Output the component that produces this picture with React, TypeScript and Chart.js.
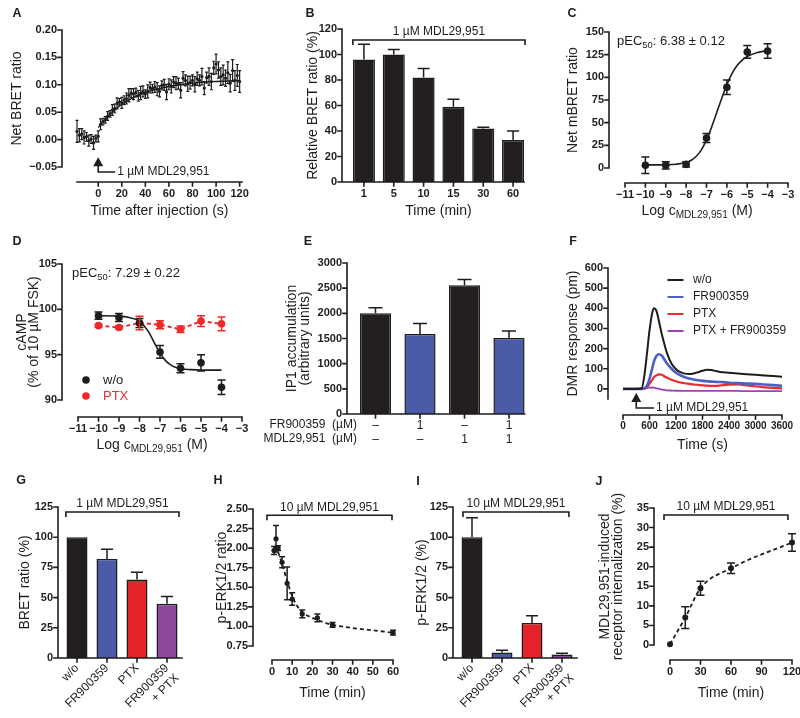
import React, { useEffect, useRef } from 'react';
import { Chart, registerables } from 'chart.js';

Chart.register(...registerables);

const FONT = "'Liberation Sans', Arial, Helvetica, sans-serif";
const INK = '#1d1d1b';
const BAR_BLACK = '#231f20';
const BAR_BLUE = '#4c5ba8';
const BAR_RED = '#e4232a';
const BAR_PURPLE = '#8d4a9c';
const LINE_BLUE = '#4b5fc6';
const LINE_RED = '#ee2a2d';
const LINE_PURPLE = '#9a45b6';
const MDL1 = '1 µM MDL29,951';
const MDL10 = '10 µM MDL29,951';

// ---------- Panel A ----------
const aTime = [-18, -16, -14, -12, -10, -8, -6, -4, -2, 0, 2, 4, 6, 8, 10, 12, 14, 16, 18, 20, 22, 24, 26, 28, 30, 32, 34, 36, 38, 40, 42, 44, 46, 48, 50, 52, 54, 56, 58, 60, 62, 64, 66, 68, 70, 72, 74, 76, 78, 80, 82, 84, 86, 88, 90, 92, 94, 96, 98, 100, 102, 104, 106, 108, 110, 112, 114, 116, 118, 120];
const aBret = [0.015, 0.008, 0.010, 0.004, 0.005, -0.002, 0.001, -0.006, 0.002, 0.006,
  0.028, 0.033, 0.036, 0.043, 0.047, 0.054, 0.057, 0.066, 0.069, 0.067,
  0.072, 0.075, 0.081, 0.085, 0.083, 0.086, 0.080, 0.085, 0.088, 0.083,
  0.088, 0.095, 0.093, 0.096, 0.092, 0.088, 0.099, 0.100, 0.087, 0.101,
  0.097, 0.105, 0.103, 0.102, 0.090, 0.112, 0.108, 0.102, 0.104, 0.108,
  0.101, 0.111, 0.108, 0.115, 0.094, 0.113, 0.115, 0.106, 0.131, 0.138,
  0.127, 0.115, 0.118, 0.112, 0.122, 0.103, 0.126, 0.108, 0.117, 0.106];
const aErr = [0.02, 0.012, 0.01, 0.012, 0.008, 0.01, 0.008, 0.012, 0.006, 0.01,
  0.01, 0.006, 0.006, 0.008, 0.006, 0.01, 0.008, 0.01, 0.006, 0.01,
  0.008, 0.01, 0.012, 0.008, 0.01, 0.008, 0.01, 0.012, 0.01, 0.008,
  0.012, 0.01, 0.008, 0.01, 0.012, 0.01, 0.008, 0.01, 0.014, 0.01,
  0.012, 0.01, 0.012, 0.01, 0.014, 0.012, 0.01, 0.014, 0.012, 0.01,
  0.014, 0.012, 0.01, 0.015, 0.012, 0.01, 0.016, 0.015, 0.012, 0.018,
  0.015, 0.016, 0.018, 0.015, 0.02, 0.016, 0.02, 0.018, 0.02, 0.02];
const aFitTime = [0, 3, 6, 10, 15, 20, 25, 30, 40, 50, 60, 70, 80, 90, 100, 110, 120];
const aFit = [0.022, 0.03, 0.037, 0.046, 0.056, 0.064, 0.071, 0.077, 0.086, 0.092, 0.097, 0.1, 0.103, 0.105, 0.106, 0.107, 0.108];
const aXTicks = [0, 20, 40, 60, 80, 100, 120];
const aYTicks = [-0.05, 0, 0.05, 0.1, 0.15, 0.2];

// ---------- Panel B ----------
const bLabels = ['1', '5', '10', '15', '30', '60'];
const bValues = [96, 100, 82, 59, 42, 33];
const bErr = [12, 4, 7, 6, 1, 7];
const bYTicks = [0, 20, 40, 60, 80, 100, 120];

// ---------- Panel C ----------
const cLogC = [-10, -9, -8, -7, -6, -5, -4];
const cBret = [3, 3, 4, 33, 89, 128, 129];
const cErr = [9, 4, 3, 5, 8, 7, 8];
const cFitX = [-10, -9.5, -9, -8.5, -8, -7.75, -7.5, -7.25, -7, -6.75, -6.5, -6.25, -6, -5.75, -5.5, -5.25, -5, -4.5, -4];
const cFitY = [3.5, 3.5, 3.7, 4.2, 6, 8.5, 13, 20, 31, 45, 61, 77, 92, 104, 113, 119, 123, 127.5, 129.5];
const cXTicks = [-11, -10, -9, -8, -7, -6, -5, -4, -3];
const cYTicks = [0, 25, 50, 75, 100, 125, 150];

// ---------- Panel D ----------
const dLogC = [-10, -9, -8, -7, -6, -5, -4];
const dWo = [99.3, 99.1, 98.5, 95.3, 93.5, 94.1, 91.4];
const dWoErr = [0.4, 0.45, 0.5, 0.7, 0.5, 0.9, 0.8];
const dPtx = [98.2, 98.0, 98.5, 98.3, 97.8, 98.7, 98.4];
const dPtxErr = [0.15, 0.15, 0.75, 0.45, 0.35, 0.6, 0.75];
const dFitX = [-10, -9, -8.5, -8, -7.75, -7.5, -7.25, -7, -6.75, -6.5, -6.25, -6, -5.5, -5, -4.5, -4];
const dFitY = [99.3, 99.25, 99.1, 98.7, 98.1, 97.3, 96.2, 95.2, 94.4, 93.9, 93.6, 93.45, 93.35, 93.3, 93.3, 93.3];
const dXTicks = [-11, -10, -9, -8, -7, -6, -5, -4, -3];
const dYTicks = [90, 95, 100, 105];

// ---------- Panel E ----------
const eLabels = [['–', '–'], ['1', '–'], ['–', '1'], ['1', '1']];
const eValues = [2000, 1590, 2560, 1510];
const eErr = [110, 210, 110, 140];
const eYTicks = [0, 500, 1000, 1500, 2000, 2500, 3000];

// ---------- Panel F ----------
const fTime = [0, 300, 420, 480, 540, 600, 660, 700, 760, 820, 880, 940, 1000, 1100, 1200, 1300, 1400, 1500, 1600, 1700, 1800, 1900, 2000, 2100, 2200, 2400, 2600, 2800, 3000, 3200, 3400, 3600];
const fWo = [0, 0, 2, 60, 170, 290, 375, 400, 385, 330, 270, 220, 175, 125, 98, 83, 76, 74, 77, 83, 90, 95, 94, 89, 84, 80, 76, 73, 70, 67, 64, 61];
const fFr = [0, 0, 0, 3, 15, 50, 100, 135, 165, 172, 165, 145, 125, 100, 80, 68, 58, 52, 47, 43, 40, 38, 36, 35, 34, 31, 29, 27, 25, 22, 19, 16];
const fPtx = [0, 0, 0, 2, 8, 25, 45, 58, 68, 72, 70, 62, 55, 46, 38, 32, 28, 25, 22, 20, 18, 16, 15, 15, 17, 21, 22, 18, 12, 8, 5, 3];
const fPtxFr = [0, 0, 0, 2, 4, 6, 7, 6, 3, 0, -3, -5, -7, -8, -9, -9, -10, -10, -10, -10, -10, -10, -10, -10, -10, -10, -10, -11, -11, -11, -11, -11];
const fXTicks = [0, 600, 1200, 1800, 2400, 3000, 3600];
const fYTicks = [0, 100, 200, 300, 400, 500, 600];

// ---------- Panel G ----------
const gLabels = ['w/o', 'FR900359', 'PTX', ['FR900359', '+ PTX']];
const gValues = [100, 82, 65, 45];
const gErr = [0, 8, 6, 6];
const gYTicks = [0, 25, 50, 75, 100, 125];

// ---------- Panel H ----------
const hTime = [1, 2, 3, 5, 7.5, 10, 15, 22.5, 30, 60];
const hRatio = [1.97, 2.12, 2.0, 1.82, 1.55, 1.35, 1.16, 1.11, 1.02, 0.92];
const hErr = [0.05, 0.17, 0.03, 0.07, 0.21, 0.08, 0.05, 0.05, 0.03, 0.03];
const hFitX = [1, 2, 3, 5, 7.5, 10, 12.5, 15, 20, 25, 30, 40, 50, 60];
const hFitY = [2.02, 2.0, 1.95, 1.8, 1.58, 1.39, 1.26, 1.18, 1.11, 1.06, 1.02, 0.98, 0.95, 0.92];
const hXTicks = [0, 10, 20, 30, 40, 50, 60];
const hYTicks = [0.75, 1.0, 1.25, 1.5, 1.75, 2.0, 2.25, 2.5];

// ---------- Panel I ----------
const iLabels = ['w/o', 'FR900359', 'PTX', ['FR900359', '+ PTX']];
const iValues = [100, 4.5, 29, 3];
const iErr = [16, 2, 6, 1];
const iYTicks = [0, 25, 50, 75, 100, 125];

// ---------- Panel J ----------
const jTime = [0, 15, 30, 60, 120];
const jInt = [0.2, 7, 14.5, 19.6, 26.2];
const jErr = [0, 2.8, 1.8, 1.35, 2.25];
const jXTicks = [0, 30, 60, 90, 120];
const jYTicks = [0, 5, 10, 15, 20, 25, 30, 35];

const pts = (xs: number[], ys: number[]) => xs.map((x, i) => ({ x, y: ys[i] }));
const fmt = (v: number, d: number) => (v < 0 ? '−' : '') + Math.abs(v).toFixed(d);

function rich(ctx: any, segs: any[], x: number, y: number, align: string, size: number, color: string, bold?: boolean) {
  const sub = size * 0.72;
  const f = (s: number) => `${bold ? 'bold ' : ''}${s}px ${FONT}`;
  let total = 0;
  for (const [t, s] of segs) { ctx.font = f(s ? sub : size); total += ctx.measureText(t).width; }
  let cx = align === 'center' ? x - total / 2 : align === 'right' ? x - total : x;
  ctx.textAlign = 'left';
  ctx.textBaseline = 'middle';
  ctx.fillStyle = color;
  for (const [t, s] of segs) {
    ctx.font = f(s ? sub : size);
    ctx.fillText(t, cx, s ? y + size * 0.32 : y);
    cx += ctx.measureText(t).width;
  }
}

const prismPlugin: any = {
  id: 'prism',
  afterDraw(chart: any, _a: any, o: any) {
    const ctx = chart.ctx;
    const ca = chart.chartArea;
    const xs = chart.scales.x;
    const ys = chart.scales.y;
    ctx.save();
    // error bars
    chart.data.datasets.forEach((ds: any, i: number) => {
      if (!ds.err) return;
      const meta = chart.getDatasetMeta(i);
      ctx.lineWidth = ds.errWidth ?? 1.5;
      ctx.strokeStyle = ds.errColor ?? INK;
      ctx.lineCap = 'butt';
      meta.data.forEach((el: any, j: number) => {
        const e = ds.err[j];
        if (!e) return;
        const raw = ds.data[j];
        const v = typeof raw === 'number' ? raw : raw.y;
        const px = el.x;
        const pt = ys.getPixelForValue(v + e);
        const pb = ys.getPixelForValue(ds.errUpOnly ? v : v - e);
        const c = ds.errCap ?? 4;
        ctx.beginPath();
        ctx.moveTo(px, pt); ctx.lineTo(px, pb);
        ctx.moveTo(px - c, pt); ctx.lineTo(px + c, pt);
        if (!ds.errUpOnly) { ctx.moveTo(px - c, pb); ctx.lineTo(px + c, pb); }
        ctx.stroke();
      });
    });
    // axes
    const tl = 4;
    ctx.lineWidth = 1.6;
    ctx.strokeStyle = INK;
    ctx.lineCap = 'square';
    const ax = ca.left - o.gapY;
    const ay = ca.bottom + o.gapX;
    ctx.beginPath();
    ctx.moveTo(ax, ys.getPixelForValue(ys.max));
    ctx.lineTo(ax, o.gapX === 0 ? ay : ys.getPixelForValue(ys.min));
    ys.ticks.forEach((t: any) => {
      const p = ys.getPixelForValue(t.value);
      ctx.moveTo(ax - tl, p); ctx.lineTo(ax, p);
    });
    const x0 = o.gapX === 0 ? ax : ca.left;
    let x1 = ca.right;
    if (o.axisEnd === 'lastBar') {
      const m = chart.getDatasetMeta(0);
      const el = m.data[m.data.length - 1];
      x1 = el.x + el.width / 2;
    }
    ctx.moveTo(x0, ay); ctx.lineTo(x1, ay);
    xs.ticks.forEach((_t: any, i: number) => {
      const p = xs.getPixelForTick(i);
      ctx.moveTo(p, ay); ctx.lineTo(p, ay + tl);
    });
    ctx.stroke();
    ctx.lineCap = 'butt';
    // brackets
    (o.brackets || []).forEach((b: any) => {
      const X0 = xs.getPixelForValue(b.x0);
      const X1 = xs.getPixelForValue(b.x1);
      const Y = ys.getPixelForValue(b.y);
      ctx.lineWidth = 1.6;
      ctx.beginPath();
      ctx.moveTo(X0, Y + 5); ctx.lineTo(X0, Y); ctx.lineTo(X1, Y); ctx.lineTo(X1, Y + 5);
      ctx.stroke();
      rich(ctx, [[b.text, 0]], (X0 + X1) / 2, Y - 8, 'center', 12, INK);
    });
    // arrows
    (o.arrows || []).forEach((a: any) => {
      const X = xs.getPixelForValue(a.x);
      const Yt = ys.getPixelForValue(a.yTip);
      const Yb = ys.getPixelForValue(a.yBase);
      const Xe = xs.getPixelForValue(a.xEnd);
      ctx.fillStyle = INK;
      ctx.beginPath();
      ctx.moveTo(X, Yt); ctx.lineTo(X - 5, Yt + 9); ctx.lineTo(X + 5, Yt + 9); ctx.closePath();
      ctx.fill();
      ctx.lineWidth = 1.6;
      ctx.beginPath();
      ctx.moveTo(X, Yt + 8); ctx.lineTo(X, Yb); ctx.lineTo(Xe, Yb);
      ctx.stroke();
      rich(ctx, [[a.text, 0]], Xe + 2, Yb, 'left', 12, INK);
    });
    // legend
    if (o.legend) {
      const L = o.legend;
      L.items.forEach((it: any, k: number) => {
        const y = L.y + k * L.dy;
        if (it.kind === 'dot') {
          ctx.fillStyle = it.color;
          ctx.beginPath(); ctx.arc(L.x, y, 3.8, 0, Math.PI * 2); ctx.fill();
        } else {
          ctx.strokeStyle = it.color; ctx.lineWidth = 2;
          ctx.beginPath(); ctx.moveTo(L.x - 8, y); ctx.lineTo(L.x + 8, y); ctx.stroke();
        }
        rich(ctx, [[it.label, 0]], L.textX, y, 'left', L.size, it.textColor ?? INK);
      });
    }
    // free texts
    (o.texts || []).forEach((t: any) => {
      rich(ctx, t.segs, t.x, t.y, t.align || 'left', t.size || 13, t.color || INK, t.bold);
    });
    ctx.restore();
  },
};

function makeChart(canvas: HTMLCanvasElement, p: any) {
  const [L, T, R, B] = p.area;
  const yTF = { family: FONT, size: p.yTitleSize ?? 14, lineHeight: p.yTitleLH ?? 1.2 };
  const ylh = yTF.size * yTF.lineHeight;
  const yLeft = p.yTitlePos - ylh / 2;
  const wY = L - yLeft;
  const xTF = { family: FONT, size: 14, lineHeight: 1.2 };
  const xlh = 14 * 1.2;
  const hX = p.xTitle ? p.xTitlePos + xlh / 2 - B : 718 - B;
  const isBar = p.kind === 'bar';
  const tickFont = { family: FONT, size: 11, weight: 'bold' };
  const xScale: any = {
    type: isBar ? 'category' : 'linear',
    grid: { display: false, drawTicks: false, tickLength: 0 },
    border: { display: false },
    ticks: {
      font: p.xTickFont ?? tickFont, color: INK, padding: p.xLabelPad ?? p.prism.gapX + 5,
      autoSkip: false, minRotation: p.rot ?? 0, maxRotation: p.rot ?? 0,
    },
    title: { display: !!p.xTitle, text: p.xTitle, font: xTF, color: INK, padding: 0 },
    afterFit: (s: any) => { s.height = hX; s.paddingLeft = 0; s.paddingRight = 0; },
  };
  if (!isBar) {
    xScale.min = p.xMin;
    xScale.max = p.xMax;
    xScale.afterBuildTicks = (s: any) => { s.ticks = p.xTicks.map((v: number) => ({ value: v })); };
    xScale.ticks.callback = (v: number) => fmt(v, p.xDec ?? 0);
  }
  const yScale: any = {
    type: 'linear',
    min: p.yMin,
    max: p.yMax,
    grid: { display: false, drawTicks: false, tickLength: 0 },
    border: { display: false },
    ticks: { font: tickFont, color: INK, padding: p.prism.gapY + 5, autoSkip: false, callback: (v: number) => fmt(v, p.yDec ?? 0) },
    afterBuildTicks: (s: any) => { s.ticks = p.yTicks.map((v: number) => ({ value: v })); },
    title: { display: true, text: p.yTitle, font: yTF, color: INK, padding: 0 },
    afterFit: (s: any) => { s.width = wY; s.paddingTop = 0; s.paddingBottom = 0; },
  };
  return new Chart(canvas, {
    type: isBar ? 'bar' : 'scatter',
    data: { labels: p.labels, datasets: p.datasets },
    options: {
      responsive: false,
      animation: false,
      events: [],
      layout: { padding: { left: yLeft, top: T, right: 800 - R, bottom: Math.max(0, 718 - B - hX) } },
      scales: { x: xScale, y: yScale },
      plugins: { legend: { display: false }, tooltip: { enabled: false }, prism: p.prism },
    } as any,
    plugins: [prismPlugin],
  });
}

const letter = (t: string, x: number, y: number) => ({ segs: [[t, 0]], x, y, align: 'center', size: 12.5, bold: true });
const logTitle = (x: number, y: number) => ({ segs: [['Log c', 0], ['MDL29,951', 1], [' (M)', 0]], x, y, align: 'center', size: 14 });

const PANELS: any[] = [
  // A
  {
    kind: 'scatter', area: [77, 30, 242, 167], xMin: -18, xMax: 122, yMin: -0.05, yMax: 0.2,
    xTicks: aXTicks, yTicks: aYTicks, yDec: 2,
    yTitle: 'Net BRET ratio', yTitlePos: 17, xTitle: 'Time after injection (s)', xTitlePos: 211,
    datasets: [
      { data: pts(aTime, aBret), pointRadius: 1.6, pointBackgroundColor: INK, pointBorderWidth: 0, err: aErr, errCap: 1.5, errWidth: 1.2, clip: false },
      { data: pts(aFitTime, aFit), showLine: true, pointRadius: 0, borderColor: INK, borderWidth: 1.4, cubicInterpolationMode: 'monotone', clip: false },
    ],
    prism: {
      gapY: 15, gapX: 15,
      arrows: [{ x: 0, yTip: -0.032, yBase: -0.059, xEnd: 14.4, text: MDL1 }],
      texts: [letter('A', 17, 14)],
    },
  },
  // B
  {
    kind: 'bar', area: [349, 29, 528, 182], yMin: 0, yMax: 120, yTicks: bYTicks, labels: bLabels,
    yTitle: 'Relative BRET ratio (%)', yTitlePos: 313, xTitle: 'Time (min)', xTitlePos: 211,
    datasets: [
      { data: bValues, backgroundColor: BAR_BLACK, borderColor: INK, borderWidth: 1.5, barPercentage: 0.74, categoryPercentage: 1, err: bErr, errUpOnly: true, errCap: 6, clip: false },
    ],
    prism: {
      gapY: 7, gapX: 0, axisEnd: 'lastBar',
      brackets: [{ x0: -0.37, x1: 5.4, y: 111.4, text: MDL1 }],
      texts: [letter('B', 310, 14)],
    },
  },
  // C
  {
    kind: 'scatter', area: [625, 32, 788, 168], xMin: -11, xMax: -3, yMin: 0, yMax: 150,
    xTicks: cXTicks, yTicks: cYTicks,
    yTitle: 'Net mBRET ratio', yTitlePos: 573,
    datasets: [
      { data: pts(cLogC, cBret), pointRadius: 3.8, pointBackgroundColor: INK, pointBorderWidth: 0, err: cErr, errCap: 4, clip: false },
      { data: pts(cFitX, cFitY), showLine: true, pointRadius: 0, borderColor: INK, borderWidth: 1.6, cubicInterpolationMode: 'monotone', clip: false },
    ],
    prism: {
      gapY: 16, gapX: 15,
      texts: [
        letter('C', 572, 14),
        { segs: [['pEC', 0], ['50', 1], [': 6.38 ± 0.12', 0]], x: 617, y: 41, size: 13 },
        logTitle(697, 211),
      ],
    },
  },
  // D
  {
    kind: 'scatter', area: [78, 264, 242, 400], xMin: -11, xMax: -3, yMin: 90, yMax: 105,
    xTicks: dXTicks, yTicks: dYTicks,
    yTitle: ['cAMP', '(% of 10 µM FSK)'], yTitlePos: 22, yTitleLH: 0.85,
    datasets: [
      { data: pts(dLogC, dWo), pointRadius: 3.8, pointBackgroundColor: INK, pointBorderWidth: 0, err: dWoErr, errCap: 4, clip: false },
      { data: pts(dLogC, dPtx), showLine: true, borderDash: [4, 3], borderColor: LINE_RED, borderWidth: 2, pointRadius: 3.8, pointBackgroundColor: LINE_RED, pointBorderWidth: 0, err: dPtxErr, errColor: LINE_RED, errCap: 4, clip: false },
      { data: pts(dFitX, dFitY), showLine: true, pointRadius: 0, borderColor: INK, borderWidth: 1.6, cubicInterpolationMode: 'monotone', clip: false },
    ],
    prism: {
      gapY: 16, gapX: 17,
      legend: { x: 86, y: 380, dy: 16, textX: 103, size: 13, items: [
        { label: 'w/o', color: INK, kind: 'dot' },
        { label: 'PTX', color: LINE_RED, textColor: LINE_RED, kind: 'dot' },
      ] },
      texts: [
        letter('D', 17, 242),
        { segs: [['pEC', 0], ['50', 1], [': 7.29 ± 0.22', 0]], x: 72, y: 273, size: 13 },
        logTitle(152, 445),
      ],
    },
  },
  // E
  {
    kind: 'bar', area: [353.25, 263, 531.25, 414], yMin: 0, yMax: 3000, yTicks: eYTicks, labels: eLabels,
    xTickFont: { family: FONT, size: 12, weight: 'normal' }, xLabelPad: 4,
    yTitle: ['IP1 accumulation', '(arbitrary units)'], yTitlePos: 292, yTitleLH: 0.95,
    datasets: [
      { data: eValues, backgroundColor: [BAR_BLACK, BAR_BLUE, BAR_BLACK, BAR_BLUE], borderColor: INK, borderWidth: 1.5, barPercentage: 0.7, categoryPercentage: 1, err: eErr, errUpOnly: true, errCap: 7, clip: false },
    ],
    prism: {
      gapY: 6.25, gapX: 0, axisEnd: 'lastBar',
      texts: [
        letter('E', 308, 242),
        { segs: [['FR900359  (µM)', 0]], x: 357, y: 425, align: 'right', size: 12 },
        { segs: [['MDL29,951  (µM)', 0]], x: 357, y: 439, align: 'right', size: 12 },
      ],
    },
  },
  // F
  {
    kind: 'scatter', area: [623, 268, 782, 399], xMin: 0, xMax: 3600, yMin: -50, yMax: 600,
    xTicks: fXTicks, yTicks: fYTicks,
    xTickFont: { family: FONT, size: 10, weight: 'bold' },
    yTitle: 'DMR response (pm)', yTitlePos: 573, xTitle: 'Time (s)', xTitlePos: 445,
    datasets: [
      { data: pts(fTime, fWo), showLine: true, pointRadius: 0, borderColor: INK, borderWidth: 2, cubicInterpolationMode: 'monotone', clip: false },
      { data: pts(fTime, fFr), showLine: true, pointRadius: 0, borderColor: LINE_BLUE, borderWidth: 2.6, cubicInterpolationMode: 'monotone', clip: false },
      { data: pts(fTime, fPtx), showLine: true, pointRadius: 0, borderColor: LINE_RED, borderWidth: 2.2, cubicInterpolationMode: 'monotone', clip: false },
      { data: pts(fTime, fPtxFr), showLine: true, pointRadius: 0, borderColor: LINE_PURPLE, borderWidth: 1.8, cubicInterpolationMode: 'monotone', clip: false },
    ],
    prism: {
      gapY: 15, gapX: 16,
      arrows: [{ x: 300, yTip: -20, yBase: -95, xEnd: 702, text: MDL1 }],
      legend: { x: 675.5, y: 280, dy: 17, textX: 693, size: 12, items: [
        { label: 'w/o', color: INK, kind: 'line' },
        { label: 'FR900359', color: LINE_BLUE, kind: 'line' },
        { label: 'PTX', color: LINE_RED, kind: 'line' },
        { label: 'PTX + FR900359', color: LINE_PURPLE, kind: 'line' },
      ] },
      texts: [letter('F', 573, 242)],
    },
  },
  // G
  {
    kind: 'bar', area: [62, 507, 182, 658], yMin: 0, yMax: 125, yTicks: gYTicks, labels: gLabels,
    xTickFont: { family: FONT, size: 12, weight: 'normal' }, xLabelPad: 3, rot: 45,
    yTitle: 'BRET ratio (%)', yTitlePos: 25,
    datasets: [
      { data: gValues, backgroundColor: [BAR_BLACK, BAR_BLUE, BAR_RED, BAR_PURPLE], borderColor: INK, borderWidth: 1.5, barPercentage: 0.7, categoryPercentage: 1, err: gErr, errUpOnly: true, errCap: 6, clip: false },
    ],
    prism: {
      gapY: 4, gapX: 0,
      brackets: [{ x0: -0.37, x1: 3.4, y: 120.9, text: MDL1 }],
      texts: [letter('G', 21, 481)],
    },
  },
  // H
  {
    kind: 'scatter', area: [272, 509, 393, 646], xMin: 0, xMax: 60, yMin: 0.75, yMax: 2.5,
    xTicks: hXTicks, yTicks: hYTicks, yDec: 2,
    yTitle: 'p-ERK1/2 ratio', yTitlePos: 222, xTitle: 'Time (min)', xTitlePos: 693,
    datasets: [
      { data: pts(hTime, hRatio), pointRadius: 2.6, pointBackgroundColor: INK, pointBorderWidth: 0, err: hErr, errCap: 3, clip: false },
      { data: pts(hFitX, hFitY), showLine: true, pointRadius: 0, borderColor: INK, borderWidth: 1.8, borderDash: [4, 3], cubicInterpolationMode: 'monotone', clip: false },
    ],
    prism: {
      gapY: 19, gapX: 14,
      brackets: [{ x0: -2.5, x1: 59.5, y: 2.42, text: MDL10 }],
      texts: [letter('H', 218, 481)],
    },
  },
  // I
  {
    kind: 'bar', area: [457, 507, 577, 658], yMin: 0, yMax: 125, yTicks: iYTicks, labels: iLabels,
    xTickFont: { family: FONT, size: 12, weight: 'normal' }, xLabelPad: 3, rot: 45,
    yTitle: 'p-ERK1/2 (%)', yTitlePos: 422,
    datasets: [
      { data: iValues, backgroundColor: [BAR_BLACK, BAR_BLUE, BAR_RED, BAR_PURPLE], borderColor: INK, borderWidth: 1.5, barPercentage: 0.7, categoryPercentage: 1, err: iErr, errUpOnly: true, errCap: 6, clip: false },
    ],
    prism: {
      gapY: 4, gapX: 0,
      brackets: [{ x0: -0.3, x1: 3.23, y: 120.9, text: MDL10 }],
      texts: [letter('I', 418, 482)],
    },
  },
  // J
  {
    kind: 'scatter', area: [670, 508, 792, 645], xMin: 0, xMax: 120, yMin: 0, yMax: 35,
    xTicks: jXTicks, yTicks: jYTicks,
    yTitle: ['MDL29,951-induced', 'receptor internalization (%)'], yTitlePos: 605, yTitleLH: 0.93,
    xTitle: 'Time (min)', xTitlePos: 693,
    datasets: [
      { data: pts(jTime, jInt), showLine: true, borderDash: [4, 3], borderColor: INK, borderWidth: 1.8, cubicInterpolationMode: 'monotone', pointRadius: 3, pointBackgroundColor: INK, pointBorderWidth: 0, err: jErr, errCap: 4, clip: false },
    ],
    prism: {
      gapY: 16, gapX: 15,
      brackets: [{ x0: -5.9, x1: 116, y: 33.2, text: MDL10 }],
      texts: [letter('J', 599, 482)],
    },
  },
];

function Panel({ cfg }: { cfg: any }) {
  const ref = useRef<HTMLCanvasElement>(null);
  useEffect(() => {
    const chart = makeChart(ref.current as HTMLCanvasElement, cfg);
    return () => chart.destroy();
  }, [cfg]);
  return <canvas ref={ref} width={800} height={718} style={{ position: 'absolute', left: 0, top: 0, width: 800, height: 718 }} />;
}

export default function App() {
  return (
    <div style={{ position: 'fixed', left: 0, top: 0, width: 800, height: 718, background: '#fff', overflow: 'hidden' }}>
      {PANELS.map((c, i) => <Panel key={i} cfg={c} />)}
    </div>
  );
}
